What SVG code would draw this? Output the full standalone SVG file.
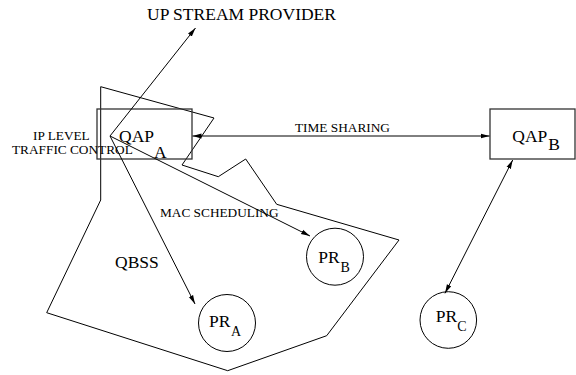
<svg xmlns="http://www.w3.org/2000/svg" width="576" height="375" viewBox="0 0 576 375">
<style>
text{font-family:'Liberation Serif','Times New Roman','DejaVu Serif',serif;fill:#000}
.big{font-size:17.5px}
.sm{font-size:13.3px}
.sub{font-size:14px}
.box{fill:none;stroke:#333;stroke-width:1.3}
.ln{fill:none;stroke:#000;stroke-width:1}
.circ{fill:none;stroke:#000;stroke-width:1}
</style>
<defs>
<marker id="ah" markerUnits="userSpaceOnUse" markerWidth="10" markerHeight="8" refX="9" refY="3" orient="auto-start-reverse" viewBox="0 0 10 6">
<path d="M0,0.6 L9,3 L0,5.4 Z" fill="#000"/>
</marker>
</defs>
<rect width="576" height="375" fill="#fff"/>
<g font-family="Liberation Serif, Times New Roman, serif">
<g id="qbss">
<polygon class="ln" points="100.7,86.7 214,118 182,165 218.3,176.7 245.7,159 276.7,204.3 399,240 326.7,335.7 227.7,370.7 46.7,312.7 100.7,200"/>
<text x="115" y="268.3" class="big">QBSS</text>
</g>
<g id="upstream">
<text x="147" y="20" class="big">UP STREAM PROVIDER</text>
</g>
<g id="qapA">
<rect class="box" x="97" y="109" width="95" height="50"/>
<text x="119" y="141.7" class="big">QAP</text>
<text x="154" y="158" class="big">A</text>
</g>
<g id="iplevel">
<text x="33" y="140" class="sm">IP LEVEL</text>
<text x="12" y="154.3" class="sm">TRAFFIC CONTROL</text>
</g>
<g id="qapB">
<rect class="box" x="490" y="109" width="85" height="50"/>
<text x="512.3" y="142.3" class="big">QAP</text>
<text x="548.3" y="150" class="big">B</text>
</g>
<g id="prA">
<circle class="circ" cx="227" cy="323" r="28.5"/>
<text x="209" y="326.7" class="big">PR</text>
<text x="231" y="335.7" class="sub">A</text>
</g>
<g id="prB">
<circle class="circ" cx="335" cy="256.7" r="28.5"/>
<text x="318.3" y="262.7" class="big">PR</text>
<text x="340.5" y="271.7" class="sub">B</text>
</g>
<g id="prC">
<circle class="circ" cx="448.3" cy="320" r="28.3"/>
<text x="435.7" y="322.3" class="big">PR</text>
<text x="457.3" y="330.7" class="sub">C</text>
</g>
<g id="connectors">
<line class="ln" x1="110" y1="136" x2="195.5" y2="28" marker-end="url(#ah)"/>
<line class="ln" x1="110" y1="136" x2="310" y2="236" marker-end="url(#ah)"/>
<line class="ln" x1="110" y1="136" x2="195" y2="304" marker-end="url(#ah)"/>
<line class="ln" x1="192.5" y1="136" x2="489.5" y2="136" marker-start="url(#ah)" marker-end="url(#ah)"/>
<line class="ln" x1="512.7" y1="160" x2="445" y2="293.3" marker-start="url(#ah)" marker-end="url(#ah)"/>
<text x="295" y="132.3" class="sm">TIME SHARING</text>
<text x="160" y="217.3" class="sm">MAC SCHEDULING</text>
</g>
</g>
</svg>
